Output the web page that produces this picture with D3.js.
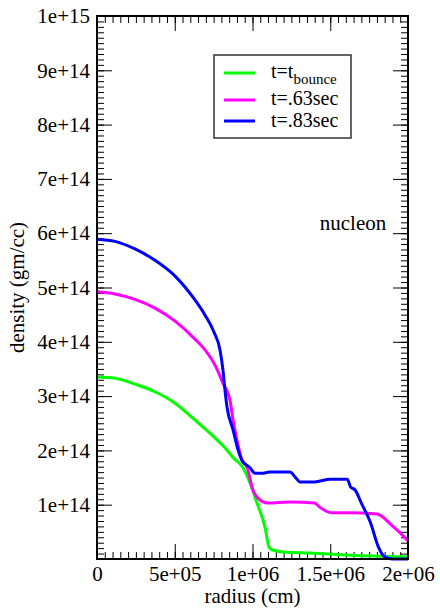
<!DOCTYPE html>
<html>
<head>
<meta charset="utf-8">
<script src="https://cdn.jsdelivr.net/npm/d3@7"></script>
<style>
  html, body { margin: 0; padding: 0; background: #fff; }
  svg { display: block; }
</style>
</head>
<body>
<svg id="chart" width="440" height="608"></svg>
<script>
// Density profiles (gm/cc) against radius (cm) at three times
const radiusBounce = [0, 1.16e5, 2.44e5, 3.73e5, 5.02e5, 6.30e5, 7.59e5, 8.23e5, 8.75e5, 9.39e5, 9.84e5, 1.029e6, 1.08e6, 1.106e6, 1.125e6, 1.20e6, 1.37e6, 1.63e6, 2.0e6];
const densityBounce = [3.35e14, 3.33e14, 3.22e14, 3.08e14, 2.87e14, 2.56e14, 2.23e14, 2.05e14, 1.87e14, 1.68e14, 1.40e14, 1.03e14, 0.59e14, 0.22e14, 0.17e14, 0.13e14, 0.11e14, 0.07e14, 0.04e14];

const radius063 = [0, 1.16e5, 2.44e5, 3.73e5, 5.02e5, 6.30e5, 6.95e5, 7.59e5, 8.10e5, 8.55e5, 8.75e5, 9.0e5, 9.32e5, 9.65e5, 1.003e6, 1.035e6, 1.10e6, 1.24e6, 1.40e6, 1.43e6, 1.51e6, 1.63e6, 1.80e6, 1.84e6, 1.88e6, 1.95e6, 2.0e6];
const density063 = [4.92e14, 4.88e14, 4.78e14, 4.62e14, 4.38e14, 4.05e14, 3.85e14, 3.57e14, 3.24e14, 2.93e14, 2.56e14, 2.19e14, 1.82e14, 1.69e14, 1.27e14, 1.12e14, 1.03e14, 1.05e14, 1.03e14, 0.96e14, 0.85e14, 0.85e14, 0.83e14, 0.77e14, 0.66e14, 0.48e14, 0.33e14];

const radius083 = [0, 1.16e5, 2.44e5, 3.73e5, 5.02e5, 6.30e5, 6.95e5, 7.52e5, 7.91e5, 8.10e5, 8.23e5, 8.36e5, 8.75e5, 9.07e5, 9.32e5, 9.84e5, 1.016e6, 1.06e6, 1.11e6, 1.24e6, 1.28e6, 1.305e6, 1.40e6, 1.50e6, 1.61e6, 1.63e6, 1.66e6, 1.70e6, 1.76e6, 1.81e6, 1.85e6, 1.90e6, 2.0e6];
const density083 = [5.89e14, 5.85e14, 5.71e14, 5.50e14, 5.21e14, 4.77e14, 4.49e14, 4.18e14, 3.85e14, 3.48e14, 3.11e14, 2.80e14, 2.38e14, 2.01e14, 1.82e14, 1.68e14, 1.58e14, 1.58e14, 1.60e14, 1.60e14, 1.49e14, 1.42e14, 1.42e14, 1.47e14, 1.47e14, 1.33e14, 1.27e14, 1.03e14, 0.66e14, 0.22e14, 0.04e14, 0, 0];

const seriesNames = ["bounce", ".63sec", ".83sec"];
const seriesColors = ["#00ff00", "#ff00ff", "#0000ff"];

const xTickValues = [0, 5e5, 1e6, 1.5e6, 2e6];
const xTickLabels = ["0", "5e+05", "1e+06", "1.5e+06", "2e+06"];
const yTickValues = [1e14, 2e14, 3e14, 4e14, 5e14, 6e14, 7e14, 8e14, 9e14, 1e15];
const yTickLabels = ["1e+14", "2e+14", "3e+14", "4e+14", "5e+14", "6e+14", "7e+14", "8e+14", "9e+14", "1e+15"];

const FONT = "'Liberation Serif', 'Times New Roman', 'DejaVu Serif', serif";
const fontSize = 21;
const legendFont = 20;

const margin = { left: 97, top: 16, right: 32, bottom: 49 };
const W = 440, H = 608;
const pw = W - margin.left - margin.right;
const ph = H - margin.top - margin.bottom;

const svg = d3.select("#chart");
const g = svg.append("g").attr("transform", `translate(${margin.left},${margin.top})`);

const x = d3.scaleLinear().domain([0, 2e6]).range([0, pw]);
const y = d3.scaleLinear().domain([0, 1e15]).range([ph, 0]);

// Minor ticks (inward, on all four sides)
const xMinor = d3.range(0, 2e6 + 1, 5e4);
const yMinor = d3.range(0, 1e15 + 1, 1e13);
const majLen = 15, minLen = 7;

function tickAxis(axisFn, scale, vals, len, transform) {
  const a = axisFn(scale).tickValues(vals).tickSize(len).tickFormat("");
  const sel = g.append("g").attr("transform", transform).call(a);
  sel.select(".domain").remove();
  sel.selectAll(".tick line").attr("stroke", "#000").attr("stroke-width", 1);
  return sel;
}
tickAxis(d3.axisTop, x, xMinor, minLen, `translate(0,${ph})`);
tickAxis(d3.axisTop, x, xTickValues, majLen, `translate(0,${ph})`);
tickAxis(d3.axisBottom, x, xMinor, minLen, `translate(0,0)`);
tickAxis(d3.axisBottom, x, xTickValues, majLen, `translate(0,0)`);
tickAxis(d3.axisRight, y, yMinor, minLen, `translate(0,0)`);
tickAxis(d3.axisRight, y, yTickValues, majLen, `translate(0,0)`);
tickAxis(d3.axisLeft, y, yMinor, minLen, `translate(${pw},0)`);
tickAxis(d3.axisLeft, y, yTickValues, majLen, `translate(${pw},0)`);

// Tick labels
const xl = g.append("g").attr("transform", `translate(0,${ph})`)
  .call(d3.axisBottom(x).tickValues(xTickValues).tickSize(0).tickPadding(7)
    .tickFormat((d, i) => xTickLabels[i]));
xl.select(".domain").remove();
xl.attr("font-family", FONT).attr("font-size", fontSize);
xl.selectAll("text").attr("fill", "#000");

const yl = g.append("g")
  .call(d3.axisLeft(y).tickValues(yTickValues).tickSize(0).tickPadding(7)
    .tickFormat((d, i) => yTickLabels[i]));
yl.select(".domain").remove();
yl.attr("font-family", FONT).attr("font-size", fontSize);
yl.selectAll("text").attr("fill", "#000");

// Curves
const line = d3.line().x(d => x(d[0])).y(d => y(d[1])).curve(d3.curveMonotoneX);
const series = [
  d3.zip(radiusBounce, densityBounce),
  d3.zip(radius063, density063),
  d3.zip(radius083, density083)
];
series.forEach((pts, i) => {
  g.append("path").datum(pts)
    .attr("d", line)
    .attr("fill", "none")
    .attr("stroke", seriesColors[i])
    .attr("stroke-width", 3)
    .attr("stroke-linejoin", "round");
});

// Frame
g.append("rect").attr("x", 0).attr("y", 0).attr("width", pw).attr("height", ph)
  .attr("fill", "none").attr("stroke", "#000").attr("stroke-width", 2);

// Axis titles
svg.append("text").attr("x", margin.left + pw / 2).attr("y", 603)
  .attr("text-anchor", "middle").attr("font-family", FONT).attr("font-size", fontSize)
  .text("radius (cm)");
svg.append("text")
  .attr("transform", `translate(24,${margin.top + ph / 2}) rotate(-90)`)
  .attr("text-anchor", "middle").attr("font-family", FONT).attr("font-size", fontSize)
  .text("density (gm/cc)");

// Annotation
svg.append("text").attr("x", 353).attr("y", 230).attr("text-anchor", "middle")
  .attr("font-family", FONT).attr("font-size", fontSize).text("nucleon");

// Legend
const leg = svg.append("g");
leg.append("rect").attr("x", 214).attr("y", 55).attr("width", 137).attr("height", 83)
  .attr("fill", "#fff").attr("stroke", "#333").attr("stroke-width", 1.5);
const legY = [73, 100, 121];
const legBase = [78, 105, 127];
seriesNames.forEach((name, i) => {
  leg.append("line").attr("x1", 224).attr("x2", 255).attr("y1", legY[i]).attr("y2", legY[i])
    .attr("stroke", seriesColors[i]).attr("stroke-width", 3);
  const t = leg.append("text").attr("x", 271).attr("y", legBase[i])
    .attr("font-family", FONT).attr("font-size", legendFont);
  if (i === 0) {
    t.append("tspan").text("t=t");
    t.append("tspan").attr("dy", 6).attr("font-size", 15).text(name);
  } else {
    t.text("t=" + name);
  }
});
</script>
</body>
</html>
